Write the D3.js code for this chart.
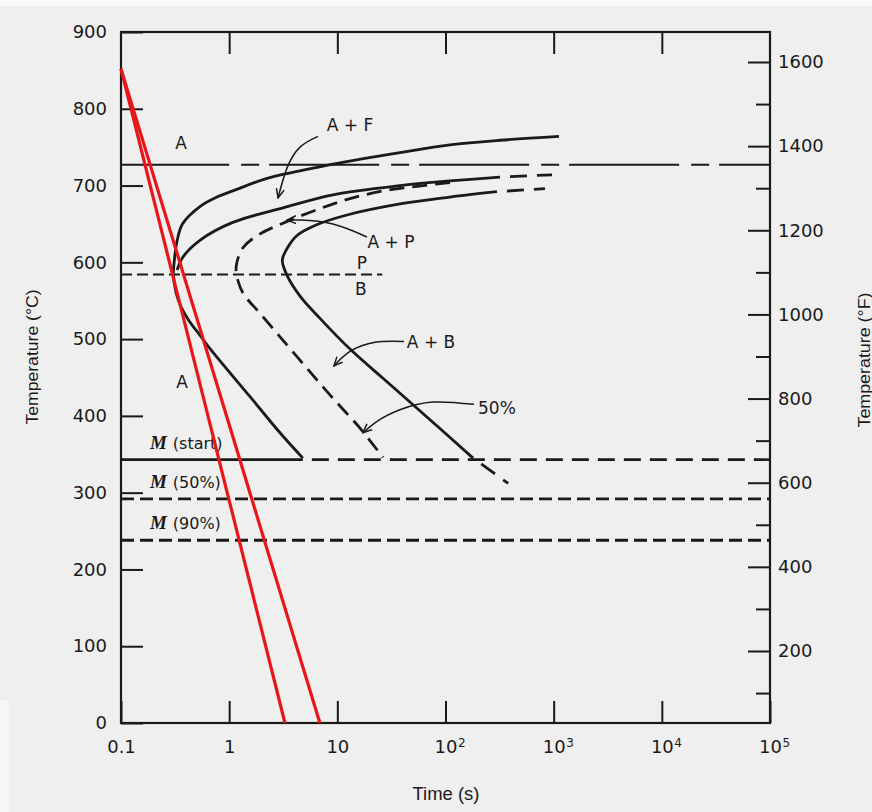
<!DOCTYPE html>
<html>
<head>
<meta charset="utf-8">
<script src="https://cdn.jsdelivr.net/npm/d3@7"></script>
<style>
  body { margin: 0; background: #efefef; }
  svg { display: block; }
  text { font-family: "DejaVu Sans", Verdana, sans-serif; fill: #1a1a1a; }
</style>
</head>
<body>
<svg id="chart" width="872" height="812"></svg>
<script>
// tick values
const xTicks = [0.1, 1, 10, 100, 1e3, 1e4, 1e5];
const xTickText = ["0.1", "1", "10", "10", "10", "10", "10"];
const xTickExp = ["", "", "", "2", "3", "4", "5"];
const cTicks = [0, 100, 200, 300, 400, 500, 600, 700, 800, 900];
const fTicks = [200, 400, 600, 800, 1000, 1200, 1400, 1600];
const fMinor = [100, 300, 500, 700, 900, 1100, 1300, 1500];

// transformation curves [time s, temp C]
const startCurve = [[1120, 764], [319, 759], [110, 753], [38, 743], [9.1, 728], [4.5, 719], [2.2, 709],
  [1.08, 693], [0.77, 685], [0.54, 673], [0.37, 650], [0.33, 628], [0.31, 600], [0.305, 585], [0.322, 561],
  [0.359, 542], [0.425, 524], [0.537, 505], [0.679, 486], [1.56, 425], [2.95, 378], [4.8, 345]];
const pearliteStart = [[0.33, 590], [0.374, 607], [0.54, 629], [1.08, 652], [3.15, 671], [9.1, 688],
  [38, 700], [110, 706], [319, 711]];
const pearliteStartExt = [[319, 711], [965, 714]];
const halfCurve = [[110, 704], [54.5, 699], [26.4, 693], [13.1, 683], [6.9, 670], [3.15, 651], [1.93, 637],
  [1.34, 619], [1.16, 594], [1.207, 576], [1.342, 560], [1.558, 548], [1.81, 538], [2.95, 503], [5.24, 462],
  [9.1, 423], [16.2, 384], [26.4, 346]];
const finishCurve = [[299, 692], [110, 685], [37.9, 676], [11.8, 661], [6.21, 648], [4.24, 635], [3.43, 618],
  [3.1, 603], [3.43, 583], [4.52, 556], [6.91, 527], [13.1, 487], [26.4, 449], [54.5, 410], [180, 345]];
const finishExtTop = [[299, 692], [832, 696]];
const finishExtLow = [[180, 345], [380, 312]];

// horizontal reference temperatures
const eutectoid = 727;
const pbLine = 584;
const mTemps = [343, 292, 238];
const mNames = ["(start)", "(50%)", "(90%)"];

// cooling paths
const coolingA = [[0.1, 852], [3.28, 0]];
const coolingB = [[0.1, 852], [6.9, 0]];

// region labels
const labels = [
  { text: "A", t: 0.36, T: 755 },
  { text: "A + F", t: 13.1, T: 779 },
  { text: "A + P", t: 31.3, T: 626 },
  { text: "P", t: 16.9, T: 599 },
  { text: "B", t: 16.5, T: 565 },
  { text: "A + B", t: 73.5, T: 497 },
  { text: "50%", t: 299, T: 410 },
  { text: "A", t: 0.366, T: 444 }
];
const arrows = [
  [[6.62, 764], [4.52, 750], [3.43, 723], [2.83, 684]],
  [[18.8, 633], [9.1, 650], [4.52, 655], [3.43, 655]],
  [[41.3, 497], [22.3, 496], [13.1, 484], [9.3, 465]],
  [[183, 415], [76.6, 418], [37.9, 408], [23.3, 393], [17.3, 378]]
];

const svg = d3.select("#chart");
const x = d3.scaleLog().domain([0.1, 1e5]).range([121, 770]);
const y = d3.scaleLinear().domain([0, 900]).range([723, 32]);
const yF = d3.scaleLinear().domain([200, 1600]).range([651, 62]);

svg.append("rect").attr("width", 872).attr("height", 6).attr("fill", "#fafafa");
svg.append("rect").attr("y", 700).attr("width", 9).attr("height", 112).attr("fill", "#f6f6f6");

svg.append("defs").append("marker")
  .attr("id", "arrow")
  .attr("viewBox", "0 -5 10 10")
  .attr("refX", 9).attr("refY", 0)
  .attr("markerUnits", "userSpaceOnUse")
  .attr("markerWidth", 10).attr("markerHeight", 10)
  .attr("orient", "auto")
  .append("path")
  .attr("d", "M0,-4L9,0L0,4")
  .attr("fill", "none")
  .attr("stroke", "#1a1a1a")
  .attr("stroke-width", 1.5);

const smooth = d3.line().x(d => x(d[0])).y(d => y(d[1])).curve(d3.curveCatmullRom.alpha(0.5));
const straight = d3.line().x(d => x(d[0])).y(d => y(d[1]));

// axes
const tickStyle = g => {
  g.select(".domain").remove();
  g.selectAll(".tick line").attr("stroke", "#1a1a1a").attr("stroke-width", 2);
  g.selectAll("text").style("font-size", "18px").attr("fill", "#1a1a1a");
};

svg.append("g").attr("transform", "translate(0,723)")
  .call(d3.axisBottom(x).tickValues(xTicks).tickSize(-22).tickPadding(17)
    .tickFormat((d, i) => xTickText[i]))
  .call(tickStyle)
  .selectAll(".tick").each(function (d, i) {
    if (!xTickExp[i]) return;
    d3.select(this).append("text")
      .attr("x", 12).attr("y", 24)
      .attr("text-anchor", "start")
      .style("font-size", "12px")
      .attr("fill", "#1a1a1a")
      .text(xTickExp[i]);
  });

svg.append("g").attr("transform", "translate(0,32)")
  .call(d3.axisTop(x).tickValues(xTicks.slice(1, -1)).tickSize(-22).tickFormat(""))
  .call(tickStyle);

svg.append("g").attr("transform", "translate(121,0)")
  .call(d3.axisLeft(y).tickValues(cTicks).tickSize(-22).tickPadding(14))
  .call(tickStyle);

svg.append("g").attr("transform", "translate(770,0)")
  .call(d3.axisRight(yF).tickValues(fTicks).tickSize(-22).tickPadding(8).tickFormat(d3.format("d")))
  .call(tickStyle);

svg.append("g").attr("transform", "translate(770,0)")
  .call(d3.axisRight(yF).tickValues(fMinor).tickSize(-14).tickFormat(""))
  .call(tickStyle);

svg.append("rect")
  .attr("x", x(0.1)).attr("y", y(900))
  .attr("width", x(1e5) - x(0.1)).attr("height", y(0) - y(900))
  .attr("fill", "none").attr("stroke", "#1a1a1a").attr("stroke-width", 2.2);

// axis titles
svg.append("text")
  .attr("transform", "translate(38,357) rotate(-90)")
  .attr("text-anchor", "middle")
  .attr("textLength", 135).attr("lengthAdjust", "spacingAndGlyphs")
  .style("font-family", "'Liberation Sans', Arial, sans-serif")
  .style("font-size", "16px")
  .text("Temperature (°C)");

svg.append("text")
  .attr("transform", "translate(870,360) rotate(-90)")
  .attr("text-anchor", "middle")
  .attr("textLength", 135).attr("lengthAdjust", "spacingAndGlyphs")
  .style("font-family", "'Liberation Sans', Arial, sans-serif")
  .style("font-size", "16px")
  .text("Temperature (°F)");

svg.append("text")
  .attr("x", 446).attr("y", 800)
  .attr("text-anchor", "middle")
  .attr("textLength", 67).attr("lengthAdjust", "spacingAndGlyphs")
  .style("font-family", "'Liberation Sans', Arial, sans-serif")
  .style("font-size", "19px")
  .text("Time (s)");

// horizontal lines
const plot = svg.append("g").attr("fill", "none").attr("stroke", "#1a1a1a");

plot.append("path").attr("d", straight([[0.1, eutectoid], [1, eutectoid]])).attr("stroke-width", 2);
plot.append("path").attr("d", straight([[1, eutectoid], [1e5, eutectoid]])).attr("stroke-width", 2)
  .attr("stroke-dasharray", "110,12,18,10").attr("stroke-dashoffset", 110);

plot.append("path").attr("d", straight([[0.1, pbLine], [26, pbLine]])).attr("stroke-width", 2)
  .attr("stroke-dasharray", "11,5");

plot.append("path").attr("d", straight([[0.1, mTemps[0]], [4.8, mTemps[0]]])).attr("stroke-width", 2.6);
plot.append("path").attr("d", straight([[4.8, mTemps[0]], [1e5, mTemps[0]]])).attr("stroke-width", 2.6)
  .attr("stroke-dasharray", "17,9").attr("stroke-dashoffset", 17);
mTemps.slice(1).forEach(T => {
  plot.append("path").attr("d", straight([[0.1, T], [1e5, T]])).attr("stroke-width", 2.8)
    .attr("stroke-dasharray", "13,6");
});

// transformation curves
plot.append("path").attr("d", smooth(startCurve)).attr("stroke-width", 2.8);
plot.append("path").attr("d", smooth(pearliteStart)).attr("stroke-width", 2.8);
plot.append("path").attr("d", smooth(finishCurve)).attr("stroke-width", 2.8);
plot.append("path").attr("d", smooth(halfCurve)).attr("stroke-width", 2.8)
  .attr("stroke-dasharray", "15,8");
[pearliteStartExt, finishExtTop, finishExtLow].forEach(seg => {
  plot.append("path").attr("d", straight(seg)).attr("stroke-width", 2.8)
    .attr("stroke-dasharray", "17,10").attr("stroke-dashoffset", 17);
});

// annotation arrows
const arrowLine = d3.line().x(d => x(d[0])).y(d => y(d[1])).curve(d3.curveNatural);
arrows.forEach(a => {
  plot.append("path").attr("d", arrowLine(a)).attr("stroke-width", 1.5)
    .attr("marker-end", "url(#arrow)");
});

// labels
svg.append("g").selectAll("text").data(labels).join("text")
  .attr("x", d => x(d.t)).attr("y", d => y(d.T))
  .attr("dy", "0.36em")
  .attr("text-anchor", "middle")
  .style("font-size", "17px")
  .text(d => d.text);

const mLab = svg.append("g").selectAll("text").data(mTemps).join("text")
  .attr("x", x(0.185)).attr("y", d => y(d) - 11)
  .style("font-size", "16px");
mLab.append("tspan")
  .style("font-family", "'Liberation Serif', 'Times New Roman', serif")
  .style("font-style", "italic").style("font-weight", "bold").style("font-size", "19px")
  .text("M");
mLab.append("tspan").attr("dx", 6).text((d, i) => mNames[i]);

// cooling paths
[coolingA, coolingB].forEach(c => {
  svg.append("path").attr("d", straight(c))
    .attr("fill", "none").attr("stroke", "#e8161b").attr("stroke-width", 3.2);
});
</script>
</body>
</html>
